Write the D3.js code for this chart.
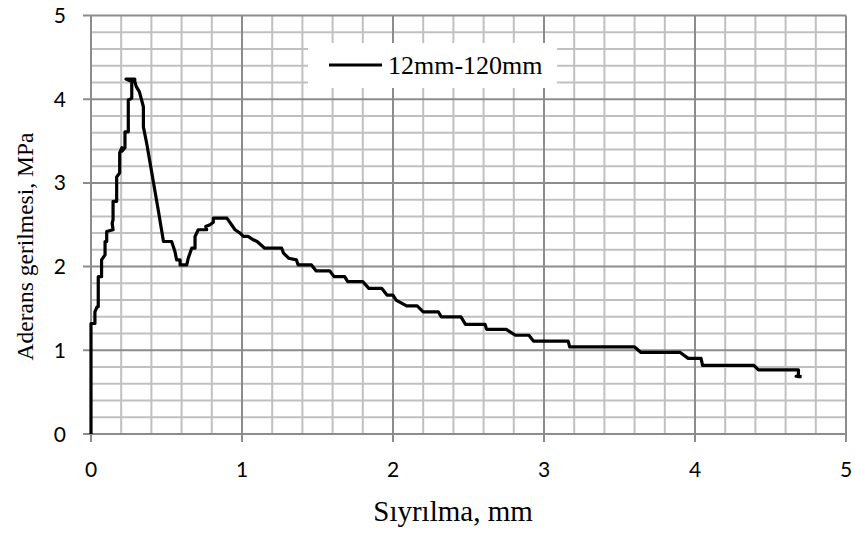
<!DOCTYPE html>
<html><head><meta charset="utf-8">
<script src="https://cdn.jsdelivr.net/npm/d3@7"></script>
<style>body{margin:0;background:#fff;} svg{display:block;} .serif{font-family:"Liberation Serif","Times New Roman",serif;} .sans{font-family:Lato,"Open Sans",sans-serif;}</style>
</head><body>
<svg id="chart" width="855" height="535"></svg>
<script>
const seriesName = "12mm-120mm";
const xTicks = [0,1,2,3,4,5];
const yTicks = [0,1,2,3,4,5];
const slip = [0,0,0.026,0.026,0.04,0.048,0.048,0.07,0.07,0.093,0.093,0.104,0.104,0.146,0.14,0.146,0.146,0.17,0.17,0.19,0.19,0.205,0.205,0.225,0.225,0.247,0.247,0.27,0.27,0.232,0.29,0.29,0.30,0.32,0.335,0.347,0.347,0.369,0.445,0.48,0.534,0.556,0.567,0.59,0.59,0.634,0.644,0.667,0.689,0.689,0.71,0.766,0.76,0.788,0.81,0.81,0.90,0.954,0.987,1.009,1.04,1.075,1.10,1.15,1.263,1.275,1.31,1.36,1.372,1.46,1.49,1.58,1.61,1.68,1.70,1.80,1.84,1.925,1.96,2.0,2.02,2.09,2.16,2.20,2.30,2.32,2.45,2.48,2.61,2.62,2.75,2.81,2.90,2.93,3.16,3.17,3.60,3.64,3.90,3.955,4.04,4.05,4.39,4.42,4.685,4.685,4.67,4.706];
const stress = [0,1.32,1.32,1.46,1.52,1.52,1.88,1.88,2.08,2.14,2.30,2.30,2.42,2.44,2.52,2.56,2.78,2.78,3.07,3.12,3.36,3.42,3.38,3.42,3.61,3.61,3.99,4.01,4.21,4.24,4.24,4.21,4.15,4.09,3.99,3.91,3.67,3.47,2.68,2.30,2.30,2.18,2.08,2.08,2.02,2.02,2.10,2.22,2.22,2.36,2.44,2.44,2.48,2.50,2.53,2.58,2.58,2.44,2.40,2.36,2.36,2.32,2.30,2.22,2.22,2.16,2.10,2.08,2.02,2.02,1.95,1.95,1.88,1.88,1.82,1.82,1.74,1.74,1.66,1.66,1.60,1.53,1.53,1.46,1.46,1.40,1.40,1.31,1.31,1.25,1.25,1.18,1.18,1.11,1.11,1.04,1.04,0.976,0.976,0.904,0.904,0.82,0.82,0.765,0.765,0.685,0.69,0.685];

const svg = d3.select("#chart");
const L=91, R=846, T=15.5, B=434;
const x = d3.scaleLinear().domain([0,5]).range([L,R]);
const y = d3.scaleLinear().domain([0,5]).range([B,T]);

const minor = d3.range(0,5.0001,0.2).map(v=>+v.toFixed(1)).filter(v=>Math.abs(v-Math.round(v))>1e-6);
const g = svg.append("g");
g.selectAll("line.mx").data(minor).join("line")
 .attr("x1",d=>x(d)).attr("x2",d=>x(d)).attr("y1",T).attr("y2",B)
 .attr("stroke","#c0c0c0").attr("stroke-width",2);
g.selectAll("line.my").data(minor).join("line")
 .attr("y1",d=>y(d)).attr("y2",d=>y(d)).attr("x1",L).attr("x2",R)
 .attr("stroke","#c0c0c0").attr("stroke-width",2);
svg.append("g").selectAll("line").data(xTicks).join("line")
 .attr("x1",d=>x(d)).attr("x2",d=>x(d)).attr("y1",T).attr("y2",B+8)
 .attr("stroke","#8c8c8c").attr("stroke-width",2);
svg.append("g").selectAll("line").data(yTicks).join("line")
 .attr("y1",d=>y(d)).attr("y2",d=>y(d)).attr("x1",L-8).attr("x2",R)
 .attr("stroke","#8c8c8c").attr("stroke-width",2);

svg.append("g").selectAll("text").data(xTicks).join("text").attr("class","sans")
 .attr("x",d=>x(d)).attr("y",477).attr("text-anchor","middle")
 .attr("font-size",21).attr("fill","#000").text(d=>d);
svg.append("g").selectAll("text").data(yTicks).join("text").attr("class","sans")
 .attr("x",66).attr("y",d=>y(d)+7.5).attr("text-anchor","end")
 .attr("font-size",21).attr("fill","#000").text(d=>d);

svg.append("rect").attr("x",308).attr("y",43).attr("width",249).attr("height",45).attr("fill","#fff");
svg.append("line").attr("x1",329).attr("x2",382).attr("y1",65).attr("y2",65).attr("stroke","#000").attr("stroke-width",3);
svg.append("text").attr("class","serif").attr("x",388).attr("y",74)
 .attr("font-size",26).text(seriesName);

const pts = slip.map((s,i)=>[s,stress[i]]);
svg.append("path").datum(pts)
 .attr("d",d3.line().x(d=>x(d[0])).y(d=>y(d[1])))
 .attr("fill","none").attr("stroke","#000").attr("stroke-width",3.2).attr("stroke-linejoin","round");

svg.append("text").attr("class","serif").attr("x",453).attr("y",521).attr("text-anchor","middle")
 .attr("font-size",29).text("Sıyrılma, mm");
svg.append("text").attr("class","serif").attr("transform","translate(33,246.5) rotate(-90)").attr("text-anchor","middle")
 .attr("font-size",23.5).text("Aderans gerilmesi, MPa");
</script>
</body></html>
